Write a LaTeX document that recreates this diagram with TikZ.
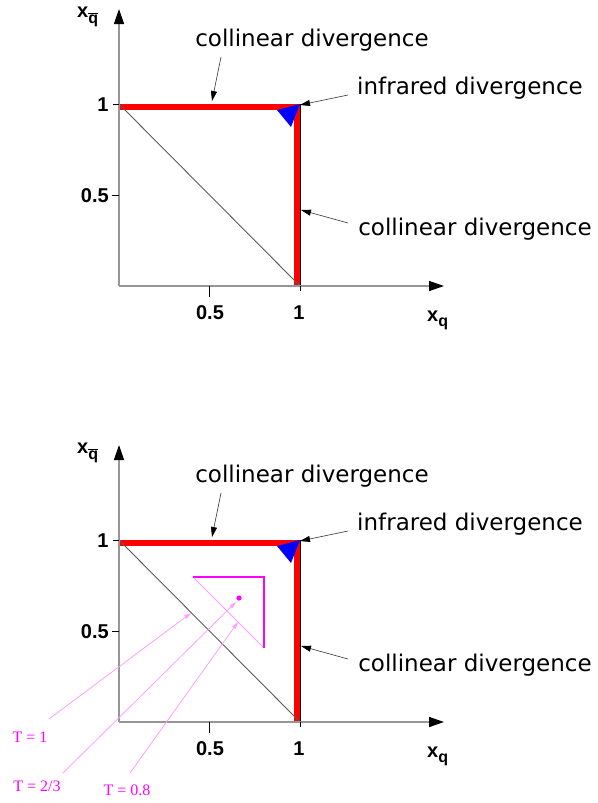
\documentclass[tikz,border=0pt]{standalone}
\usepackage{fontspec}
\setmainfont{DejaVu Sans}
\newfontfamily\numfont{Liberation Sans}
\newfontfamily\tfont{Liberation Serif}
\usetikzlibrary{arrows.meta}
\definecolor{axisgray}{RGB}{150,150,150}
\definecolor{diaggray}{RGB}{90,90,90}
\definecolor{mag}{RGB}{255,0,255}
\definecolor{lightmag}{RGB}{255,160,255}
\definecolor{divred}{RGB}{255,0,0}
\definecolor{irblue}{RGB}{0,0,255}
\tikzset{
  axisline/.style={draw=axisgray, line width=1.4pt, -{Triangle[length=15pt,width=10pt,black]}},
  ticksty/.style={draw=black, line width=1pt},
  numlab/.style={font=\numfont\bfseries\fontsize{20}{20}\selectfont, inner sep=0pt},
  divlab/.style={font=\fontsize{23}{24}\selectfont, inner sep=0pt},
  divarrow/.style={draw=black!80, line width=0.6pt, -{Triangle[length=10pt,width=6pt,black]}, shorten >=0pt},
  redline/.style={draw=divred, line width=6pt},
  tlab/.style={font=\tfont\fontsize{16}{16}\selectfont, text=mag, inner sep=0pt},
  magarrow/.style={draw=lightmag, line width=0.8pt, -{Triangle[length=7pt,width=4pt,lightmag]}},
}
\newcommand{\divpanel}[2]{%
\begin{scope}[shift={(0,#1)}]
  % boundary lines and red divergences
  \draw[black, line width=0.8pt] (119,104) -- (300,104) -- (300,286);
  \draw[redline] (120,107) -- (300,107);
  \draw[redline] (297,104) -- (297,286);
  % diagonal
  \draw[diaggray, line width=0.9pt] (119,104) -- (300,286);
  % blue corner triangle
  \fill[irblue] (277,110) -- (300,104) -- (291,127) -- cycle;
  % axes
  \coordinate (#2-o) at (119,286);
  \coordinate (#2-ytip) at (119,9);
  \coordinate (#2-xtip) at (444,286);
  \draw[axisline] (#2-o) -- (#2-ytip);
  \draw[axisline] (#2-o) -- (#2-xtip);
  % ticks
  \draw[ticksty] (112,195) -- (119,195);
  \draw[ticksty] (113,104) -- (119,104);
  \draw[ticksty] (209,286) -- (209,297);
  \draw[ticksty] (300,286) -- (300,291);
  % tick labels
  \node[numlab] (#2-y1) at (103,105) {1};
  \node[numlab, anchor=east] (#2-y05) at (109,196) {0.5};
  \node[numlab] (#2-x05) at (210,313) {0.5};
  \node[numlab] (#2-x1) at (299,313) {1};
  \node[numlab, anchor=base west] (#2-xq) at (427,321) {x\raisebox{-5pt}{\fontsize{16}{16}\selectfont q}};
  \node[numlab, anchor=base west] (#2-yq) at (77,17) {x\raisebox{-6pt}{\fontsize{16}{16}\selectfont$\overline{\hbox{q}}$}};
  % divergence labels
  \node[divlab] (#2-coltop) at (312,40) {collinear divergence};
  \node[divlab] (#2-ir) at (470,88) {infrared divergence};
  \node[divlab] (#2-colright) at (475,229) {collinear divergence};
  \coordinate (#2-ctip) at (212,101);
  \coordinate (#2-irtip) at (300,105);
  \coordinate (#2-crtip) at (301,210);
  \coordinate (#2-cstart) at (221,57);
  \coordinate (#2-irstart) at (348,95);
  \coordinate (#2-crstart) at (348,223);
  \draw[divarrow] (#2-cstart) -- (#2-ctip);
  \draw[divarrow] (#2-irstart) -- (#2-irtip);
  \draw[divarrow] (#2-crstart) -- (#2-crtip);
\end{scope}}
\begin{document}
\begin{tikzpicture}[x=1pt,y=-1pt]
  \useasboundingbox[fill=white] (0,0) rectangle (597,803);
  \divpanel{0}{a}
  \divpanel{436}{b}
  % magenta region in lower panel
  \draw[lightmag, line width=0.9pt] (193,577) -- (264,648);
  \draw[mag, line width=1.2pt] (193,577) -- (264,577) -- (264,648);
  \fill[mag] (239,598) circle (2.6);
  \node[tlab] (t1) at (30,737) {T = 1};
  \node[tlab] (t23) at (37,786) {T = 2/3};
  \node[tlab] (t08) at (127,790) {T = 0.8};
  \coordinate (t1s) at (49,719);
  \coordinate (t1e) at (191,613);
  \coordinate (t23s) at (63,773);
  \coordinate (t23e) at (236,602);
  \coordinate (t08s) at (130,773);
  \coordinate (t08e) at (238,622);
  \draw[magarrow] (t1s) -- (t1e);
  \draw[magarrow] (t23s) -- (t23e);
  \draw[magarrow] (t08s) -- (t08e);
\end{tikzpicture}
\end{document}
